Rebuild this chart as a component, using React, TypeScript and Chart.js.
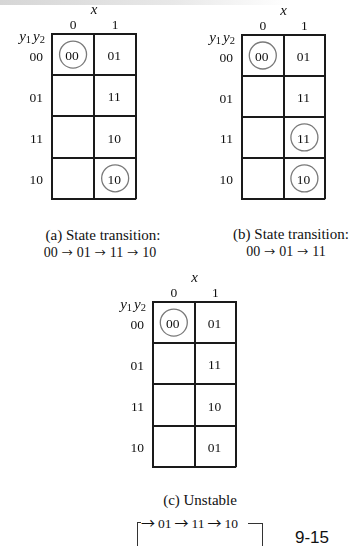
import React, { useEffect, useRef } from 'react';
import { Chart, registerables } from 'chart.js';

Chart.register(...registerables);

// ---- data ----
const X_LABELS = ['0', '1'];
const ROW_LABELS = ['00', '01', '11', '10'];

const NEXT_A_X0 = ['00', '', '', ''];
const NEXT_A_X1 = ['01', '11', '10', '10'];
const NEXT_B_X0 = ['00', '', '', ''];
const NEXT_B_X1 = ['01', '11', '11', '10'];
const NEXT_C_X0 = ['00', '', '', ''];
const NEXT_C_X1 = ['01', '11', '10', '01'];

const CAPTION_A = ['(a) State transition:', '00 → 01 → 11 → 10'];
const CAPTION_B = ['(b) State transition:', '00 → 01 → 11'];
const CAPTION_C = '(c) Unstable';
const CYCLE_C = '→ 01 → 11 → 10';
const PAGE_NUMBER = '9-15';

const SERIF = '"Liberation Serif", "Times New Roman", serif';
const INK = '#111';

type Pt = { x: string; y: string; v: string; stable: boolean };

function KMap(props: { left: number; top: number; col0: string[]; col1: string[]; tw: number; th: number }) {
  const ref = useRef<HTMLCanvasElement>(null);
  const AXW = 52;
  const AXH = 34;
  const W = AXW + props.tw + 3;
  const H = AXH + props.th + 3;

  useEffect(() => {
    const points: Pt[] = [];
    ROW_LABELS.forEach((r, i) => {
      [props.col0[i], props.col1[i]].forEach((v, j) => {
        if (v) points.push({ x: X_LABELS[j], y: r, v, stable: v === r });
      });
    });

    const cellText = {
      id: 'cellText',
      afterDatasetsDraw(chart: any) {
        const ctx = chart.ctx as CanvasRenderingContext2D;
        const meta = chart.getDatasetMeta(0);
        ctx.save();
        ctx.font = `13.5px ${SERIF}`;
        ctx.fillStyle = INK;
        ctx.textAlign = 'center';
        ctx.textBaseline = 'middle';
        meta.data.forEach((el: any, i: number) => {
          ctx.fillText(points[i].v, el.x - 1, el.y + 2);
        });
        // y1 y2 heading
        const parts: [string, string, number, number][] = [
          ['y', `italic 15px ${SERIF}`, 0, 0],
          ['1', `10.5px ${SERIF}`, 2, 2],
          ['y', `italic 15px ${SERIF}`, 0, 0],
          ['2', `10.5px ${SERIF}`, 2, 0],
        ];
        let total = 0;
        const widths = parts.map(([t, f, , gap]) => {
          ctx.font = f;
          const w = ctx.measureText(t).width + gap;
          total += w;
          return w;
        });
        const { left, top } = chart.chartArea;
        let x = left - 7 - total;
        const base = top + 7;
        ctx.textAlign = 'left';
        ctx.textBaseline = 'alphabetic';
        parts.forEach(([t, f, dy], i) => {
          ctx.font = f;
          ctx.fillText(t, x, base + dy);
          x += widths[i];
        });
        ctx.restore();
      },
    };

    const gridCfg = { offset: true, drawTicks: false, color: '#1a1a1a', lineWidth: 2 };
    const borderCfg = { color: '#1a1a1a', width: 2 };

    const chart = new Chart(ref.current as HTMLCanvasElement, {
      type: 'scatter',
      data: {
        datasets: [
          {
            data: points as any,
            pointRadius: points.map((p) => (p.stable ? 13.5 : 0)),
            pointHoverRadius: points.map((p) => (p.stable ? 13.5 : 0)),
            pointStyle: 'circle',
            borderColor: '#7a7a7a',
            borderWidth: 1.3,
            backgroundColor: 'rgba(0,0,0,0)',
          },
        ],
      },
      options: {
        responsive: false,
        animation: false,
        events: [],
        layout: { padding: { left: 0, top: 0, right: 3, bottom: 3 } },
        plugins: { legend: { display: false }, tooltip: { enabled: false } },
        scales: {
          x: {
            type: 'category',
            labels: X_LABELS,
            position: 'top',
            offset: true,
            grid: gridCfg,
            border: borderCfg,
            ticks: { padding: 0, color: INK, autoSkip: false, maxRotation: 0, font: { family: SERIF, size: 13.5 } },
            title: {
              display: true,
              text: 'x',
              color: INK,
              font: { family: SERIF, size: 15, style: 'italic' },
              padding: { top: 1, bottom: 0 },
            },
            afterFit: (s: any) => {
              s.height = AXH;
            },
          },
          y: {
            type: 'category',
            labels: ROW_LABELS,
            position: 'left',
            offset: true,
            grid: gridCfg,
            border: borderCfg,
            ticks: { padding: 9, labelOffset: 2.5, color: INK, autoSkip: false, font: { family: SERIF, size: 13.5 } },
            afterFit: (s: any) => {
              s.width = AXW;
            },
          },
        },
      } as any,
      plugins: [cellText],
    });
    return () => chart.destroy();
  }, []);

  return (
    <canvas
      ref={ref}
      width={W}
      height={H}
      style={{ position: 'absolute', left: props.left - AXW, top: props.top - AXH, width: W, height: H }}
    />
  );
}

function withArrows(s: string, arrowSize: number, gap: number) {
  const bits = s.split('→');
  const out: React.ReactNode[] = [];
  bits.forEach((b, i) => {
    if (i > 0)
      out.push(
        <span
          key={'a' + i}
          style={{
            fontFamily: '"Noto Sans CJK JP", "DejaVu Sans", sans-serif',
            fontSize: arrowSize,
            margin: `0 ${gap}px`,
          }}
        >
          →
        </span>
      );
    out.push(<span key={'t' + i} style={{ whiteSpace: 'pre' }}>{b.trim()}</span>);
  });
  return out;
}

function Text(props: { cx?: number; x?: number; cy: number; size: number; family?: string; children: React.ReactNode }) {
  const h = Math.round(props.size * 1.4);
  const style: React.CSSProperties = {
    position: 'absolute',
    top: props.cy - h / 2,
    height: h,
    lineHeight: `${h}px`,
    fontSize: props.size,
    fontFamily: props.family || SERIF,
    color: INK,
    whiteSpace: 'nowrap',
  };
  if (props.cx !== undefined) {
    style.left = props.cx - 120;
    style.width = 240;
    style.textAlign = 'center';
  } else {
    style.left = props.x;
  }
  return <div style={style}>{props.children}</div>;
}

export default function App() {
  const line = '#333';
  return (
    <div
      style={{
        position: 'fixed',
        left: 0,
        top: 0,
        width: 349,
        height: 546,
        overflow: 'hidden',
        background: '#fff',
      }}
    >
      <div
        style={{
          position: 'absolute',
          left: 0,
          top: 0,
          width: 290,
          height: 5,
          background: 'linear-gradient(to right, #d6d6d6, #e8e8e8 60%, #ffffff)',
        }}
      />
      <KMap left={52} top={34} tw={96} th={179} col0={NEXT_A_X0} col1={NEXT_A_X1} />
      <KMap left={242} top={35} tw={95} th={178} col0={NEXT_B_X0} col1={NEXT_B_X1} />
      <KMap left={153} top={302} tw={95} th={179} col0={NEXT_C_X0} col1={NEXT_C_X1} />

      <Text cx={103} cy={235} size={15}>{CAPTION_A[0]}</Text>
      <Text cx={100} cy={252} size={14}>{withArrows(CAPTION_A[1], 11, 4)}</Text>
      <Text cx={291} cy={234} size={15}>{CAPTION_B[0]}</Text>
      <Text cx={286} cy={251} size={14}>{withArrows(CAPTION_B[1], 11, 4)}</Text>
      <Text cx={200} cy={500} size={15}>{CAPTION_C}</Text>
      <Text x={138} cy={522} size={13.5}>{withArrows(CYCLE_C, 14, 3)}</Text>

      <div style={{ position: 'absolute', left: 137, top: 522, width: 0, height: 30, borderLeft: `1.3px solid ${line}` }} />
      <div style={{ position: 'absolute', left: 137, top: 522, width: 4, height: 0, borderTop: `1.3px solid ${line}` }} />
      <div style={{ position: 'absolute', left: 248, top: 523, width: 14, height: 0, borderTop: `1.3px solid ${line}` }} />
      <div style={{ position: 'absolute', left: 262, top: 523, width: 0, height: 30, borderLeft: `1.3px solid ${line}` }} />

      <Text x={295} cy={538} size={17} family={'"Liberation Sans", Arial, sans-serif'}>{PAGE_NUMBER}</Text>
    </div>
  );
}
